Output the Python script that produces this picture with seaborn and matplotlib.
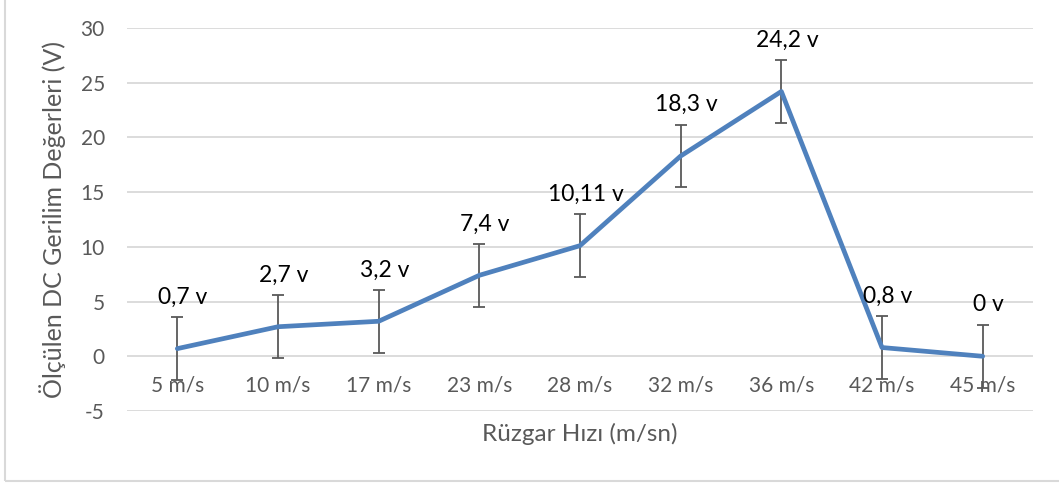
import numpy as np
import pandas as pd
import matplotlib
matplotlib.use("Agg")
import matplotlib.pyplot as plt
import seaborn as sns
from matplotlib.patches import Rectangle

# Chart data
hiz = ['5 m/s', '10 m/s', '17 m/s', '23 m/s', '28 m/s', '32 m/s', '36 m/s', '42 m/s', '45 m/s']
gerilim = [0.7, 2.7, 3.2, 7.4, 10.11, 18.3, 24.2, 0.8, 0]
etiketler = ['0,7 v', '2,7 v', '3,2 v', '7,4 v', '10,11 v', '18,3 v', '24,2 v', '0,8 v', '0 v']
hata = [2.87] * 9  # standard error bars

df = pd.DataFrame({'hiz': hiz, 'gerilim': gerilim})

sns.set_style('white')
plt.rcParams['font.family'] = ['Lato', 'DejaVu Sans']
plt.rcParams['axes.unicode_minus'] = False

gray = '#595959'
blue = '#4F81BD'

fig = plt.figure(figsize=(10.59, 4.84), dpi=100)
ax = fig.add_axes([127 / 1059, 73 / 484, 906 / 1059, 383 / 484])

# error bars behind the line
ax.errorbar(df['hiz'], df['gerilim'], yerr=hata, fmt='none', ecolor=gray,
            elinewidth=1.3, capsize=4.5, capthick=1.3, zorder=2)
sns.lineplot(data=df, x='hiz', y='gerilim', sort=False, color=blue,
             linewidth=3.4, ax=ax, zorder=3)

# data labels above points
for h, v, t in zip(hiz, gerilim, etiketler):
    ax.annotate(t, (h, v), xytext=(4, 37), textcoords='offset points',
                ha='center', va='center', fontsize=16.5, color='black')

ax.set_xlim(-0.5, len(hiz) - 0.5)
ax.set_ylim(-5, 30)
ax.set_yticks(np.arange(-5, 31, 5))
ax.yaxis.grid(True, color='#D9D9D9', linewidth=1.3)
ax.xaxis.grid(False)
for s in ax.spines.values():
    s.set_visible(False)
ax.spines['bottom'].set_position(('data', 0))

ax.tick_params(axis='y', length=0, pad=16, labelsize=15, labelcolor=gray)
ax.tick_params(axis='x', length=0, pad=14, labelsize=15, labelcolor=gray)

ax.set_xlabel('Rüzgar Hızı (m/sn)', fontsize=17.5, color=gray)
ax.xaxis.set_label_coords(0.5, -0.03)
ax.set_ylabel('Ölçülen DC Gerilim Değerleri (V)', fontsize=18, color=gray, va='center')
ax.yaxis.set_label_coords(-0.082, 0.5)

# chart border
fig.patches.append(Rectangle((5 / 1059, 3 / 484), 1.2, 1.2, transform=fig.transFigure,
                             fill=False, edgecolor='#D9D9D9', linewidth=1.5))

fig.savefig('out.png', dpi=100)
